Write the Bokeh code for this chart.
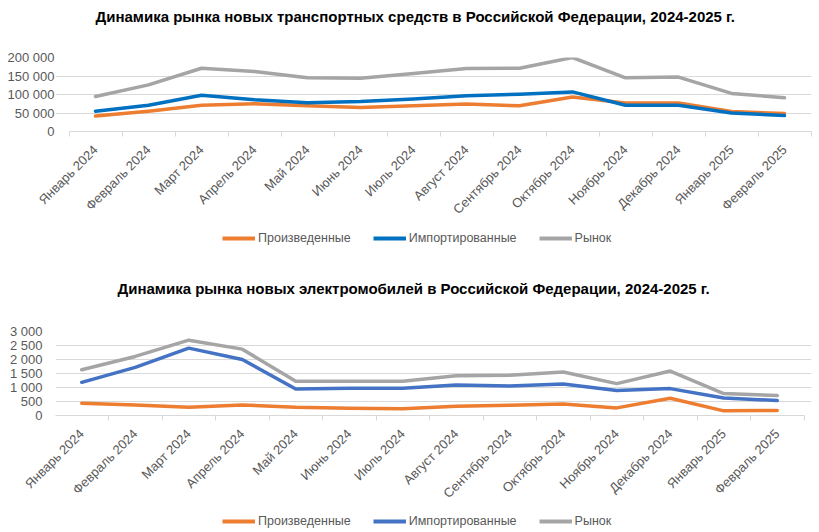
import math
from bokeh.plotting import figure
from bokeh.layouts import column
from bokeh.models import FixedTicker, Legend, LegendItem, Range1d
from bokeh.embed import file_html
from bokeh.resources import INLINE

FONT = "Liberation Sans"

months = ["Январь 2024", "Февраль 2024", "Март 2024", "Апрель 2024", "Май 2024",
          "Июнь 2024", "Июль 2024", "Август 2024", "Сентябрь 2024", "Октябрь 2024",
          "Ноябрь 2024", "Декабрь 2024", "Январь 2025", "Февраль 2025"]

series_names = ["Произведенные", "Импортированные", "Рынок"]

title_vehicles = "Динамика рынка новых транспортных средств в Российской Федерации, 2024-2025 г."
vehicles_produced = [41600, 55000, 71000, 75000, 69500, 65000, 69500, 74000, 69500, 93000, 77000, 77000, 54000, 48600]
vehicles_imported = [55000, 71000, 98000, 86000, 77600, 81000, 88000, 96500, 101000, 107000, 71000, 71000, 50000, 43000]
vehicles_market = [94600, 126000, 171000, 162000, 145000, 144000, 157000, 170000, 171000, 200000, 145000, 147000, 103000, 91000]
vehicles_ticks = [0, 50000, 100000, 150000, 200000]
vehicles_tick_labels = ["0", "50 000", "100 000", "150 000", "200 000"]

title_ev = "Динамика рынка новых электромобилей в Российской Федерации, 2024-2025 г."
ev_produced = [438, 379, 296, 379, 296, 260, 237, 332, 367, 415, 272, 616, 166, 178]
ev_imported = [1185, 1718, 2405, 2002, 948, 971, 971, 1090, 1054, 1125, 889, 960, 628, 533]
ev_market = [1635, 2109, 2690, 2370, 1220, 1220, 1220, 1422, 1434, 1552, 1137, 1588, 782, 711]
ev_ticks = [0, 500, 1000, 1500, 2000, 2500, 3000]
ev_tick_labels = ["0", "500", "1 000", "1 500", "2 000", "2 500", "3 000"]

ORANGE = "#ED7D31"
GRAY = "#A5A5A5"
LABEL_COLOR = "#595959"
WIDTH = 819
FRAME_LEFT = 55      # shared (the column aligns plot frames)
FRAME_RIGHT_BORDER = 8
FRAME_RIGHT = WIDTH - FRAME_RIGHT_BORDER


def hide_grids(p):
    for g in p.xgrid + p.ygrid:
        g.visible = False


def bare_figure(height):
    p = figure(width=WIDTH, height=height, output_backend="svg", toolbar_location=None,
               x_axis_location=None, y_axis_location=None,
               x_range=Range1d(0, 1), y_range=Range1d(0, 1),
               min_border_left=FRAME_LEFT, min_border_right=FRAME_RIGHT_BORDER,
               min_border_top=0, min_border_bottom=0)
    p.outline_line_color = None
    hide_grids(p)
    return p


def make_title(text, height, standoff, offset):
    t = bare_figure(height)
    t.title.text = text
    t.title.align = "left"
    t.title.offset = offset
    t.title.vertical_align = "middle"
    t.title.standoff = standoff
    t.title.text_font = FONT
    t.title.text_font_size = "15px"
    t.title.text_font_style = "bold"
    t.title.text_color = "black"
    return t


def make_legend(blue, height, x, y):
    lg = bare_figure(height)
    colors = [ORANGE, blue, GRAY]
    items = []
    for name, c in zip(series_names, colors):
        r = lg.line(x=[float("nan")], y=[float("nan")], line_color=c, line_width=4)
        items.append(LegendItem(label=name, renderers=[r]))
    legend = Legend(items=items, orientation="horizontal", location=(x, y),
                    border_line_color=None, background_fill_alpha=0,
                    padding=0, margin=0, spacing=22,
                    glyph_width=33, glyph_height=14, label_height=14,
                    label_standoff=3,
                    label_text_font=FONT, label_text_font_size="12.5px",
                    label_text_color=LABEL_COLOR)
    lg.add_layout(legend)
    return lg


def make_chart(produced, imported, market, blue, yticks, ylabels,
               height, border_top, frame_h, cat_left_px, cat_right_px, ylabel_standoff):
    n = len(months)
    xs = list(range(n))
    # category band edges -0.5 .. n-0.5 land on cat_left_px .. cat_right_px
    scale = (cat_right_px - cat_left_px) / n
    x_start = -0.5 - (cat_left_px - FRAME_LEFT) / scale
    x_end = (n - 0.5) + (FRAME_RIGHT - cat_right_px) / scale
    p = figure(width=WIDTH, height=height, output_backend="svg", toolbar_location=None,
               x_range=Range1d(x_start, x_end), y_range=Range1d(0, yticks[-1]),
               min_border_left=FRAME_LEFT, min_border_right=FRAME_RIGHT_BORDER,
               min_border_top=border_top,
               min_border_bottom=height - border_top - frame_h)
    p.outline_line_color = None

    p.line(xs, produced, line_color=ORANGE, line_width=3.5, line_join="round", line_cap="round")
    p.line(xs, imported, line_color=blue, line_width=3.5, line_join="round", line_cap="round")
    p.line(xs, market, line_color=GRAY, line_width=3.5, line_join="round", line_cap="round")

    xax = p.xaxis[0]
    xax.bounds = (-0.5, n - 0.5)
    xax.ticker = FixedTicker(ticks=xs, minor_ticks=[i - 0.5 for i in range(n + 1)])
    xax.major_label_overrides = {i: m for i, m in enumerate(months)}
    xax.major_label_orientation = math.pi / 4
    xax.major_tick_line_color = None
    xax.major_tick_out = 0
    xax.major_tick_in = 0
    xax.minor_tick_line_color = "#D9D9D9"
    xax.minor_tick_out = 5
    xax.minor_tick_in = 0
    xax.axis_line_color = "#D9D9D9"
    xax.major_label_standoff = 11
    xax.major_label_text_font = FONT
    xax.major_label_text_font_size = "13px"
    xax.major_label_text_color = LABEL_COLOR

    yax = p.yaxis[0]
    yax.ticker = FixedTicker(ticks=yticks)
    yax.major_label_overrides = {t: l for t, l in zip(yticks, ylabels)}
    yax.axis_line_color = None
    yax.major_tick_line_color = None
    yax.minor_tick_line_color = None
    yax.major_tick_out = 0
    yax.major_label_standoff = ylabel_standoff
    yax.major_label_text_font = FONT
    yax.major_label_text_font_size = "13px"
    yax.major_label_text_color = LABEL_COLOR

    p.xgrid.visible = False
    p.ygrid.grid_line_color = "#D9D9D9"
    p.ygrid.grid_line_width = 1
    p.ygrid.bounds = (-0.5, n - 0.5)
    return p


t1 = make_title(title_vehicles, height=36, standoff=13, offset=40)
p1 = make_chart(vehicles_produced, vehicles_imported, vehicles_market,
                "#0070C0", vehicles_ticks, vehicles_tick_labels,
                height=190, border_top=21, frame_h=74,
                cat_left_px=68.5, cat_right_px=810.5, ylabel_standoff=1)
l1 = make_legend("#0070C0", height=42, x=222 - FRAME_LEFT, y=23)

t2 = make_title(title_ev, height=44, standoff=21, offset=62)
p2 = make_chart(ev_produced, ev_imported, ev_market,
                "#4472C4", ev_ticks, ev_tick_labels,
                height=198, border_top=19, frame_h=84,
                cat_left_px=54.5, cat_right_px=803.5, ylabel_standoff=13)
l2 = make_legend("#4472C4", height=22, x=222 - FRAME_LEFT, y=4)

layout = column(t1, p1, l1, t2, p2, l2, spacing=0)
open("out.html", "w").write(file_html(layout, INLINE))
